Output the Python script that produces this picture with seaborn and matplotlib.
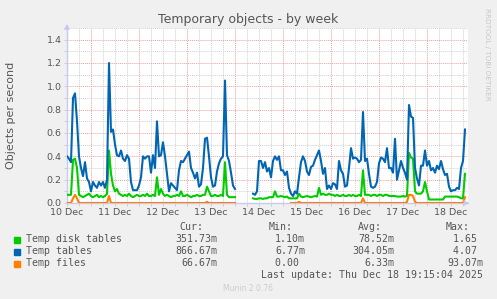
import numpy as np
import pandas as pd
import matplotlib
matplotlib.use("Agg")
import matplotlib.pyplot as plt
import matplotlib.dates as mdates
from matplotlib.ticker import MultipleLocator, FuncFormatter, NullFormatter
from matplotlib.patches import Rectangle
import seaborn as sns

# ---------------- data (hourly samples, starting 2025-12-10 12:00) ----------------
start_time = "2025-12-10 12:00"
nan = np.nan

temp_tables = [
    0.40, 0.38, 0.35, 0.90, 0.94, 0.70, 0.40, 0.30, 0.23, 0.35,
    0.21, 0.18, 0.10, 0.18, 0.15, 0.13, 0.18, 0.15, 0.18, 0.13,
    0.20, 1.20, 0.61, 0.63, 0.50, 0.41, 0.40, 0.45, 0.38, 0.36,
    0.41, 0.38, 0.18, 0.11, 0.11, 0.11, 0.15, 0.22, 0.40, 0.38,
    0.40, 0.40, 0.26, 0.41, 0.30, 0.70, 0.40, 0.41, 0.52, 0.40,
    0.25, 0.10, 0.17, 0.15, 0.13, 0.11, 0.28, 0.36, 0.35, 0.38,
    0.41, 0.44, 0.30, 0.26, 0.21, 0.26, 0.14, 0.16, 0.30, 0.55,
    0.56, 0.40, 0.22, 0.14, 0.15, 0.27, 0.34, 0.38, 0.40, 1.05,
    0.41, 0.36, 0.26, 0.15, 0.12, nan, nan, nan, nan, nan,
    nan, nan, nan, 0.08, 0.07, 0.10, 0.36, 0.36, 0.30, 0.35,
    0.27, 0.30, 0.22, 0.36, 0.40, 0.37, 0.40, 0.28, 0.28, 0.24,
    0.27, 0.13, 0.08, 0.06, 0.10, 0.08, 0.22, 0.35, 0.40, 0.36,
    0.27, 0.24, 0.31, 0.32, 0.37, 0.41, 0.45, 0.36, 0.25, 0.30,
    0.12, 0.15, 0.12, 0.17, 0.16, 0.12, 0.36, 0.28, 0.25, 0.14,
    0.15, 0.30, 0.47, 0.38, 0.39, 0.38, 0.35, 0.37, 0.78, 0.36,
    0.38, 0.25, 0.14, 0.13, 0.14, 0.18, 0.34, 0.39, 0.38, 0.35,
    0.47, 0.30, 0.30, 0.26, 0.55, 0.20, 0.28, 0.36, 0.30, 0.26,
    0.20, 0.84, 0.74, 0.73, 0.30, 0.21, 0.15, 0.32, 0.32, 0.45,
    0.32, 0.36, 0.28, 0.30, 0.26, 0.32, 0.29, 0.36, 0.29, 0.24,
    0.25, 0.14, 0.10, 0.11, 0.11, 0.13, 0.12, 0.30, 0.36, 0.63,
]

temp_disk_tables = [
    0.07, 0.07, 0.07, 0.37, 0.38, 0.30, 0.07, 0.06, 0.05, 0.06,
    0.07, 0.08, 0.06, 0.05, 0.06, 0.07, 0.05, 0.06, 0.05, 0.06,
    0.08, 0.45, 0.25, 0.15, 0.10, 0.12, 0.08, 0.07, 0.06, 0.07,
    0.06, 0.08, 0.06, 0.05, 0.06, 0.07, 0.06, 0.06, 0.07, 0.06,
    0.08, 0.06, 0.06, 0.07, 0.06, 0.22, 0.07, 0.12, 0.08, 0.06,
    0.07, 0.06, 0.05, 0.06, 0.06, 0.07, 0.06, 0.10, 0.06, 0.06,
    0.07, 0.06, 0.05, 0.06, 0.06, 0.07, 0.06, 0.06, 0.07, 0.07,
    0.14, 0.10, 0.06, 0.06, 0.07, 0.06, 0.06, 0.07, 0.06, 0.35,
    0.07, 0.05, 0.05, 0.05, 0.05, nan, nan, nan, nan, nan,
    nan, nan, nan, 0.04, 0.035, 0.035, 0.04, 0.04, 0.035, 0.04,
    0.04, 0.05, 0.05, 0.05, 0.10, 0.055, 0.055, 0.06, 0.055, 0.05,
    0.055, 0.04, 0.04, 0.04, 0.04, 0.04, 0.08, 0.055, 0.05, 0.055,
    0.06, 0.055, 0.05, 0.055, 0.06, 0.055, 0.13, 0.07, 0.08, 0.07,
    0.07, 0.08, 0.07, 0.07, 0.06, 0.07, 0.06, 0.06, 0.07, 0.06,
    0.06, 0.07, 0.06, 0.07, 0.06, 0.06, 0.07, 0.06, 0.28, 0.07,
    0.07, 0.07, 0.06, 0.07, 0.07, 0.06, 0.07, 0.07, 0.06, 0.07,
    0.07, 0.06, 0.06, 0.06, 0.06, 0.055, 0.055, 0.055, 0.06, 0.055,
    0.06, 0.43, 0.39, 0.38, 0.10, 0.08, 0.08, 0.08, 0.10, 0.18,
    0.10, 0.03, 0.03, 0.03, 0.03, 0.03, 0.03, 0.03, 0.03, 0.055,
    0.055, 0.055, 0.055, 0.055, 0.055, 0.055, 0.05, 0.04, 0.04, 0.25,
]

temp_files = [
    0.00, 0.00, 0.00, 0.04, 0.07, 0.04, 0.00, 0.00, 0.00, 0.00,
    0.00, 0.00, 0.00, 0.00, 0.00, 0.00, 0.00, 0.00, 0.00, 0.00,
    0.00, 0.06, 0.00, 0.00, 0.00, 0.00, 0.00, 0.00, 0.00, 0.00,
    0.00, 0.00, 0.00, 0.00, 0.00, 0.00, 0.00, 0.00, 0.00, 0.00,
    0.00, 0.00, 0.00, 0.00, 0.00, 0.00, 0.00, 0.00, 0.00, 0.00,
    0.00, 0.00, 0.00, 0.00, 0.00, 0.00, 0.00, 0.00, 0.00, 0.00,
    0.00, 0.00, 0.00, 0.00, 0.00, 0.00, 0.00, 0.00, 0.00, 0.00,
    0.01, 0.00, 0.00, 0.00, 0.00, 0.00, 0.00, 0.00, 0.00, 0.00,
    0.00, 0.00, 0.00, 0.00, 0.00, nan, nan, nan, nan, nan,
    nan, nan, nan, nan, nan, nan, nan, nan, nan, nan,
    nan, nan, nan, nan, nan, nan, nan, nan, nan, nan,
    nan, nan, 0.00, 0.00, 0.00, 0.00, 0.01, 0.00, 0.00, 0.00,
    0.00, 0.00, 0.00, 0.00, 0.00, 0.00, 0.00, 0.00, 0.00, 0.00,
    0.00, 0.00, 0.00, 0.00, 0.00, 0.00, 0.00, 0.00, 0.00, 0.00,
    0.00, 0.00, 0.00, 0.00, 0.00, 0.00, 0.00, 0.00, 0.04, 0.00,
    0.00, 0.00, 0.00, 0.00, 0.00, 0.00, 0.00, 0.00, 0.00, 0.00,
    0.00, 0.00, 0.00, 0.00, 0.00, 0.00, 0.00, 0.00, 0.00, 0.00,
    0.01, 0.07, 0.07, 0.06, 0.01, 0.00, 0.00, 0.00, 0.00, 0.00,
    0.00, 0.00, 0.00, 0.00, 0.00, 0.00, 0.00, 0.00, 0.00, 0.00,
    0.00, 0.00, 0.00, 0.00, 0.00, 0.00, 0.00, 0.00, 0.00, 0.05,
]

series_names = ["Temp disk tables", "Temp tables", "Temp files"]
series_colors = ["#00CC00", "#0066B3", "#FF8000"]
cur_vals = ["351.73m", "866.67m", "66.67m"]
min_vals = ["1.10m", "6.77m", "0.00 "]
avg_vals = ["78.52m", "304.05m", "6.33m"]
max_vals = ["1.65 ", "4.07 ", "93.07m"]
day_labels_fmt = "%d %b"
last_update = "Last update: Thu Dec 18 19:15:04 2025"

# ---------------- build long table ----------------
times = pd.date_range(start_time, periods=len(temp_tables), freq="h")
frames = []
for name, vals in zip(series_names, [temp_disk_tables, temp_tables, temp_files]):
    s = pd.Series(vals, index=times)
    seg = s.isna().cumsum()
    d = pd.DataFrame({"time": times, "value": s.values, "series": name, "segment": seg.values})
    frames.append(d.dropna())
df = pd.concat(frames, ignore_index=True)

# ---------------- figure ----------------
W, H = 497, 299
fig = plt.figure(figsize=(W / 100, H / 100), dpi=100)
fig.patch.set_facecolor("#F0F0F0")
ax = fig.add_axes([67 / W, (H - 203) / H, 400.5 / W, 175 / H])
ax.set_facecolor("white")

sns.lineplot(data=df, x="time", y="value", hue="series", units="segment",
             estimator=None, palette=dict(zip(series_names, series_colors)),
             hue_order=series_names, linewidth=1.5, legend=False, ax=ax, zorder=3)

x0 = pd.Timestamp(start_time)
x1 = x0 + pd.Timedelta(hours=200.25)
ax.set_xlim(x0, x1)
ax.set_ylim(0, 1.5)

txt = "#555555"
grid_minor = "#D0D0D0"
grid_major = "#F0A0A0"
axis_col = "#C8C8F0"

# y grid
ax.yaxis.set_major_locator(MultipleLocator(0.2))
ax.yaxis.set_minor_locator(MultipleLocator(0.1))
ax.yaxis.set_major_formatter(FuncFormatter(lambda v, p: f"{v:.1f}"))
# x grid: major at midnight, minor every 6h, labels at noon
ax.xaxis.set_major_locator(mdates.DayLocator())
ax.xaxis.set_major_formatter(NullFormatter())
ax.xaxis.set_minor_locator(mdates.HourLocator(byhour=[6, 12, 18]))
ax.xaxis.set_minor_formatter(FuncFormatter(
    lambda v, p: mdates.num2date(v).strftime(day_labels_fmt) if mdates.num2date(v).hour == 12 else ""))

ax.grid(which="major", color=grid_major, linestyle=(0, (1, 1)), linewidth=0.7, zorder=1)
ax.grid(which="minor", color=grid_minor, linestyle=(0, (1, 1)), linewidth=0.7, zorder=1)
ax.set_axisbelow(True)

for side in ["top", "right"]:
    ax.spines[side].set_visible(False)
for side in ["left", "bottom"]:
    ax.spines[side].set_color(axis_col)
    ax.spines[side].set_linewidth(1.0)
    ax.spines[side].set_zorder(2)

ax.tick_params(axis="both", which="both", length=2, width=0.6, color="#C8C8C8",
               labelsize=6.8, labelcolor=txt, pad=2)
ax.tick_params(axis="x", which="minor", pad=1.5)
ax.set_xlabel("")
ax.set_ylabel("")

# axis arrows
ax.annotate("", xy=(0, 1.04), xycoords="axes fraction", xytext=(0, 0.98),
            arrowprops=dict(arrowstyle="-|>", color=axis_col, lw=1, mutation_scale=7), annotation_clip=False)
ax.annotate("", xy=(1.012, 0), xycoords="axes fraction", xytext=(0.99, 0),
            arrowprops=dict(arrowstyle="-|>", color=axis_col, lw=1, mutation_scale=7), annotation_clip=False)

# titles
fig.text(248 / W, 1 - 19 / H, "Temporary objects - by week", ha="center", va="center",
         fontsize=9, color=txt)
fig.text(11 / W, 1 - 115 / H, "Objects per second", ha="center", va="center",
         rotation=90, fontsize=8, color=txt)
fig.text(487 / W, 1 - 54 / H, "RRDTOOL / TOBI OETIKER", ha="center", va="center",
         rotation=270, fontsize=5.2, color="#C8C8C8")

# legend block
mono = "DejaVu Sans Mono"
fs = 7.15
hdr_y = 227
fig.text(203 / W, 1 - hdr_y / H, "Cur:", ha="right", va="center", family=mono, fontsize=fs, color=txt)
fig.text(293 / W, 1 - hdr_y / H, "Min:", ha="right", va="center", family=mono, fontsize=fs, color=txt)
fig.text(382 / W, 1 - hdr_y / H, "Avg:", ha="right", va="center", family=mono, fontsize=fs, color=txt)
fig.text(470 / W, 1 - hdr_y / H, "Max:", ha="right", va="center", family=mono, fontsize=fs, color=txt)

rows_y = [239.5, 251.5, 263.5]
for i, name in enumerate(series_names):
    yy = 1 - rows_y[i] / H
    fig.patches.append(Rectangle((14 / W, 1 - (rows_y[i] + 3) / H), 6 / W, 6 / H,
                                 transform=fig.transFigure, color=series_colors[i], figure=fig))
    fig.text(26 / W, yy, name, ha="left", va="center", family=mono, fontsize=fs, color=txt)
    fig.text(217 / W, yy, cur_vals[i], ha="right", va="center", family=mono, fontsize=fs, color=txt)
    fig.text(305 / W, yy, min_vals[i], ha="right", va="center", family=mono, fontsize=fs, color=txt)
    fig.text(394 / W, yy, avg_vals[i], ha="right", va="center", family=mono, fontsize=fs, color=txt)
    fig.text(483 / W, yy, max_vals[i], ha="right", va="center", family=mono, fontsize=fs, color=txt)

fig.text(483 / W, 1 - 275.5 / H, last_update, ha="right", va="center", family=mono, fontsize=fs, color=txt)
fig.text(248 / W, 1 - 288.5 / H, "Munin 2.0.76", ha="center", va="center", fontsize=5.5, color="#CCCCCC")

fig.savefig("out.png", dpi=100, facecolor=fig.get_facecolor())
